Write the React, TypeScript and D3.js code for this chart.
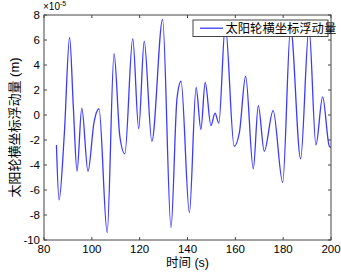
import React from "react";
import * as d3 from "d3";

const timeKeys = [85.2, 86.3, 88.5, 90.7, 92.3, 93.8, 95.8, 98.4, 100.9, 103, 106.4, 109.3, 111.7, 113.8, 117.1, 119.6, 121.9, 125.1, 129.6, 133.1, 135.6, 137.3, 140.8, 143.6, 145.6, 147.4, 149.8, 151.5, 153.1, 155.8, 159.5, 161.7, 164.3, 167.5, 169.6, 172.1, 175.8, 179.8, 183.1, 187.3, 190.8, 193.7, 196.5, 199.3, 200];
const dispValues = [-2.4, -6.8, -1.5, 6.2, 0.5, -4.5, 0.55, -4.5, -0.6, 0.5, -9.4, 4.9, -1.7, -3.1, 6.1, -1.1, 5.9, -2.1, 7.65, -9.0, 1.3, 2.7, -7.8, 2.2, -1.15, 2.6, -0.85, 0.15, -0.65, 7.2, -2.5, -1.4, 3.1, -4.3, 0.75, -2.9, 0.35, -5.4, 7.0, -3.5, 7.0, -2.4, 1.45, -2.5, -2.6];
const xTicks = [80, 100, 120, 140, 160, 180, 200];
const yTicks = [-10, -8, -6, -4, -2, 0, 2, 4, 6, 8];
const legendLabel = "太阳轮横坐标浮动量";
const xLabel = "时间 (s)";
const yLabel = "太阳轮横坐标浮动量 (m)";

export default function App() {
  const W = 341, H = 273;
  const L = 44, R = 331, T = 15, B = 240;
  const x = d3.scaleLinear().domain([80, 200]).range([L, R]);
  const y = d3.scaleLinear().domain([-10, 8]).range([B, T]);
  const pts: [number, number][] = timeKeys.map((t, i) => [t, dispValues[i]]);
  const line = d3.line<[number, number]>().x(d => x(d[0])).y(d => y(d[1])).curve(d3.curveMonotoneX);
  const font = "'Liberation Sans', Arial, 'Noto Sans CJK SC', sans-serif";
  const cjk = "'Liberation Sans', 'Noto Sans CJK SC', sans-serif";
  const axisCol = "#444";
  return (
    <div style={{ position: "absolute", left: 0, top: 0 }}>
      <svg width={W} height={H} style={{ display: "block", background: "#fff" }}>
        <defs>
          <clipPath id="pc"><rect x={L} y={T} width={R - L} height={B - T} /></clipPath>
        </defs>
        <path d={line(pts) || ""} fill="none" stroke="#3b3bff" strokeWidth={1.3} clipPath="url(#pc)" />
        <rect x={L} y={T} width={R - L} height={B - T} fill="none" stroke={axisCol} strokeWidth={1} />
        {xTicks.map(t => (
          <g key={"x" + t}>
            <line x1={x(t)} x2={x(t)} y1={B} y2={B - 3} stroke={axisCol} />
            <line x1={x(t)} x2={x(t)} y1={T} y2={T + 3} stroke={axisCol} />
            <text x={x(t)} y={B + 13} textAnchor="middle" fontSize={11.5} fontFamily={font} fill="#000">{t}</text>
          </g>
        ))}
        {yTicks.map(t => (
          <g key={"y" + t}>
            <line x1={L} x2={L + 3} y1={y(t)} y2={y(t)} stroke={axisCol} />
            <line x1={R} x2={R - 3} y1={y(t)} y2={y(t)} stroke={axisCol} />
            <text x={L - 4} y={y(t) + 4} textAnchor="end" fontSize={11.5} fontFamily={font} fill="#000">{t}</text>
          </g>
        ))}
        <text x={L - 1} y={10} fontSize={10} fontFamily={font} fill="#000">×10<tspan dy={-4} fontSize={7}>-5</tspan></text>
        <text x={(L + R) / 2} y={267} textAnchor="middle" fontSize={12.5} fontFamily={cjk} fill="#000">{xLabel}</text>
        <text transform={`translate(19,${(T + B) / 2}) rotate(-90)`} textAnchor="middle" fontSize={13} fontFamily={cjk} fill="#000">{yLabel}</text>
        <g>
          <rect x={193} y={20} width={135} height={16.5} fill="#fff" stroke={axisCol} strokeWidth={1} />
          <line x1={200} x2={223} y1={28.2} y2={28.2} stroke="#3b3bff" strokeWidth={1.3} />
          <text x={225.5} y={32.5} fontSize={12.3} fontFamily={cjk} fill="#000">{legendLabel}</text>
        </g>
      </svg>
    </div>
  );
}
